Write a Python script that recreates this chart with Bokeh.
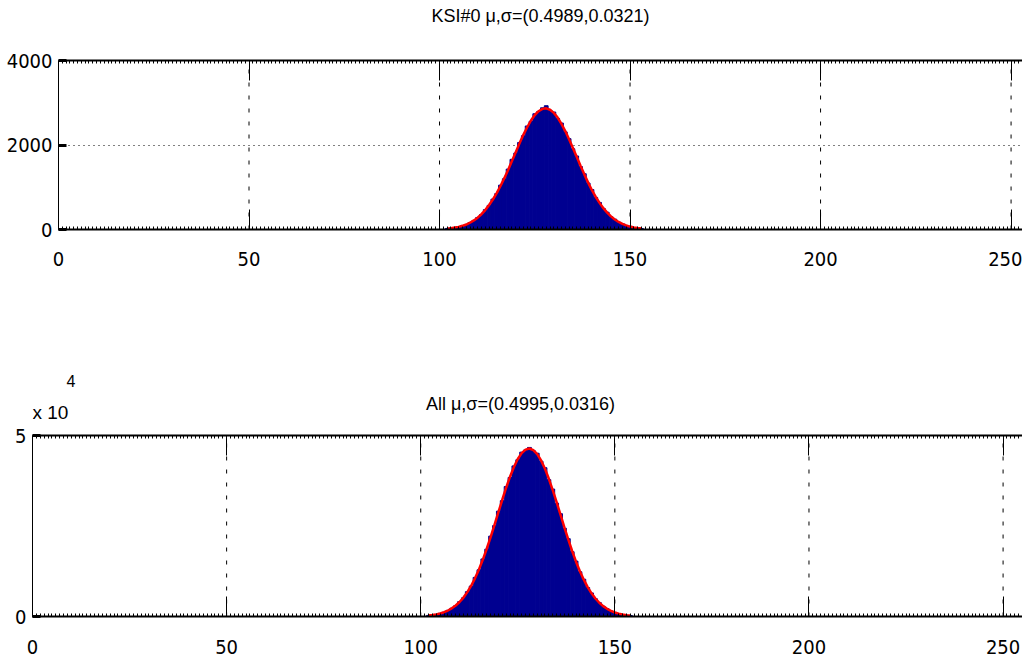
from bokeh.plotting import figure
from bokeh.models import Range1d, LinearAxis, FixedTicker, Label
from bokeh.embed import file_html
from bokeh.resources import INLINE

# ---------------- data ----------------
top_title = "KSI#0 \u03bc,\u03c3=(0.4989,0.0321)"
bottom_title = "All \u03bc,\u03c3=(0.4995,0.0316)"
x_ticks = [0, 50, 100, 150, 200, 250]
x_minor = list(range(0, 257))
top_y_ticks = [0, 2000, 4000]
top_y_max = 4000
bottom_y_ticks = [0, 50000]
bottom_y_labels = ["0", "5"]
bottom_y_max = 50000
bottom_exponent = "4"

top_bins = list(range(102, 154))
top_counts = [25, 38, 47, 60, 90, 115, 165, 210, 285, 355, 470, 570, 720, 850,
              1050, 1200, 1430, 1660, 1810, 2060, 2220, 2450, 2560, 2740, 2790,
              2880, 2930, 2820, 2780, 2630, 2520, 2310, 2150, 1910, 1740, 1490,
              1320, 1100, 945, 760, 640, 495, 410, 300, 245, 170, 135, 92, 72,
              46, 36, 22]
top_fit = [21, 31, 45, 62, 87, 118, 160, 215, 280, 362, 460, 578, 710, 862,
           1030, 1215, 1410, 1620, 1830, 2040, 2240, 2420, 2580, 2710, 2800,
           2855, 2868, 2835, 2760, 2650, 2500, 2330, 2135, 1930, 1720, 1510,
           1305, 1110, 930, 770, 630, 505, 400, 310, 237, 178, 132, 96, 69,
           49, 34, 25]

bottom_bins = list(range(102, 155))
bottom_counts = [300, 430, 610, 870, 1150, 1700, 2300, 2980, 4100, 5150, 6850,
                 8400, 10800, 12900, 15900, 18600, 22200, 25100, 29100, 32000,
                 35900, 38400, 41600, 43300, 45400, 46000, 46700, 45800, 45100,
                 42900, 41100, 37800, 35200, 31300, 28400, 24400, 21500, 17900,
                 15300, 12350, 10300, 8000, 6500, 4900, 3850, 2800, 2150, 1520,
                 1130, 770, 560, 370, 270]
bottom_fit = [280, 410, 590, 840, 1190, 1650, 2250, 3030, 4010, 5230, 6730,
              8510, 10610, 13010, 15730, 18720, 21950, 25330, 28810, 32250,
              35570, 38620, 41310, 43510, 45140, 46110, 46400, 45970, 44860,
              43110, 40810, 38040, 34920, 31570, 28110, 24650, 21290, 18100,
              15150, 12510, 10170, 8130, 6400, 4970, 3800, 2860, 2120, 1550,
              1110, 790, 550, 380, 260]

TICK_FONT = "DejaVu Sans Condensed"
FONT = "Liberation Sans"
BAR = "#000090"


def style_x_axis(ax, labels=True):
    ax.axis_line_color = "black"
    ax.axis_line_width = 2
    ax.major_tick_line_color = "black"
    ax.major_tick_line_width = 1
    ax.major_tick_in = 20
    ax.major_tick_out = 0
    ax.minor_tick_line_color = "black"
    ax.minor_tick_line_width = 1
    ax.minor_tick_in = 3
    ax.minor_tick_out = 0
    ax.major_label_text_font = TICK_FONT
    if labels:
        ax.major_label_text_font_size = "20px"
        ax.major_label_text_color = "black"
    else:
        ax.major_label_text_font_size = "0px"
        ax.major_label_text_color = None
        ax.major_label_standoff = 0


def make(height, xr, ytop, data_px, bl, bb, yticks, ylabel_over, gridy, x_standoff):
    # frame starts at the very top of the canvas; extra data room above ytop
    frame_h = height - bb
    y_end = ytop * frame_h / data_px
    p = figure(width=1022, height=height, x_range=Range1d(*xr), y_range=Range1d(0, y_end),
               output_backend="svg", toolbar_location=None,
               min_border_left=bl, min_border_right=0, min_border_top=0,
               min_border_bottom=bb, x_axis_location=None, y_axis_location=None)
    p.outline_line_color = None
    p.background_fill_color = "white"
    p.border_fill_color = "white"

    xb = LinearAxis(ticker=FixedTicker(ticks=x_ticks, minor_ticks=x_minor))
    style_x_axis(xb, labels=True)
    xb.major_label_standoff = x_standoff
    p.add_layout(xb, "below")

    xa = LinearAxis(ticker=FixedTicker(ticks=x_ticks, minor_ticks=x_minor),
                    fixed_location=ytop)
    style_x_axis(xa, labels=False)
    p.add_layout(xa, "above")

    yl = LinearAxis(ticker=FixedTicker(ticks=yticks), bounds=(0, ytop))
    yl.axis_line_color = "black"
    yl.axis_line_width = 1
    yl.major_tick_line_color = "black"
    yl.major_tick_line_width = 3
    yl.major_tick_in = 8
    yl.major_tick_out = 0
    yl.minor_tick_line_color = None
    yl.major_label_text_font = TICK_FONT
    yl.major_label_text_font_size = "20px"
    yl.major_label_text_color = "black"
    yl.major_label_standoff = 6
    if ylabel_over:
        yl.major_label_overrides = ylabel_over
    p.add_layout(yl, "left")

    p.xgrid.visible = False
    gx = x_ticks[1:]
    p.segment(x0=gx, y0=[0] * len(gx), x1=gx, y1=[ytop] * len(gx),
              line_color="black", line_width=1, line_dash="4 9")
    p.ygrid.ticker = FixedTicker(ticks=gridy)
    p.ygrid.grid_line_color = "black"
    p.ygrid.grid_line_dash = "1 4"
    p.ygrid.grid_line_width = 1
    return p


def lab(p, x, y, text, size, align="center"):
    p.add_layout(Label(x=x, y=y, x_units="screen", y_units="screen", text=text,
                       text_align=align, text_baseline="middle", text_font=FONT,
                       text_font_size=size, text_color="black"))


# ---------- top ----------
p1 = make(332, (0, 253), top_y_max, 169, 58, 103, top_y_ticks, None, [2000], 22)
p1.vbar(x=top_bins, top=top_counts, width=1.0, fill_color=BAR, line_color=BAR)
p1.line(top_bins, top_fit, line_color="#FF0000", line_width=2.5)
lab(p1, 482, 214, top_title, "18px")

# ---------- bottom ----------
p2 = make(332, (0, 255), bottom_y_max, 181, 32, 48, bottom_y_ticks,
          {t: l for t, l in zip(bottom_y_ticks, bottom_y_labels)}, [], 23)
p2.vbar(x=bottom_bins, top=bottom_counts, width=1.0, fill_color=BAR, line_color=BAR)
p2.line(bottom_bins, bottom_fit, line_color="#FF0000", line_width=2.5)
lab(p2, 488, 213, bottom_title, "18px")
lab(p2, 0, 204, "x 10", "19px", align="left")
lab(p2, 34, 236, bottom_exponent, "16px", align="left")

open("out.html", "w").write(file_html([p1, p2], INLINE))
